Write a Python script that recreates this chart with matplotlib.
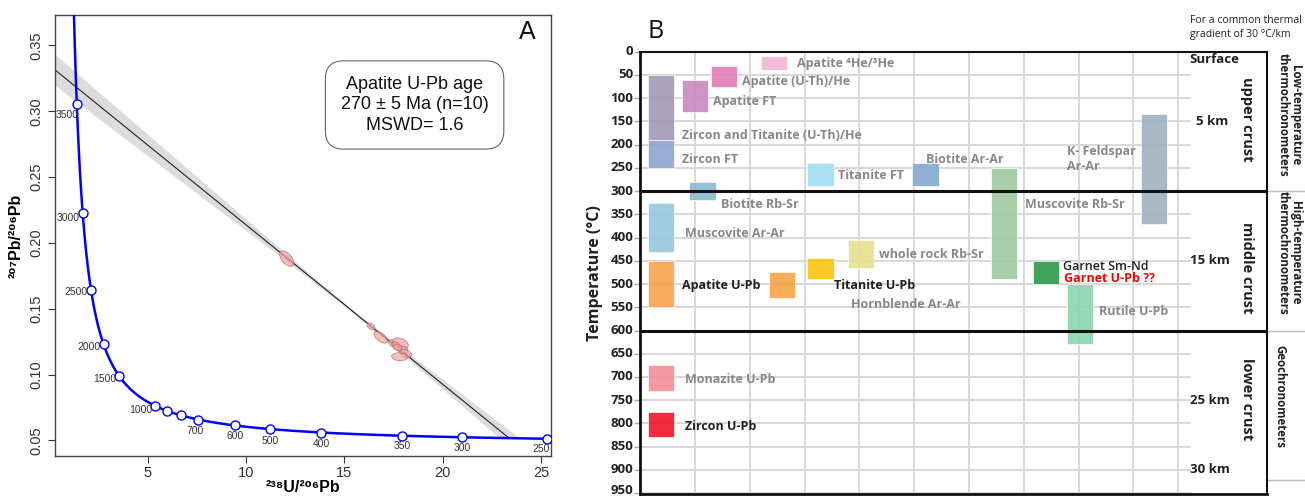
import numpy as np
import matplotlib
matplotlib.use('Agg')
import matplotlib.pyplot as plt

# ---------------- Panel A data (Tera-Wasserburg) ----------------
marker_ages = [250, 300, 350, 450, 550, 650, 800, 900, 1000, 1100, 1600, 2000, 2500, 3000, 3500]
age_labels = ['3500', '3000', '2500', '2000', '1500', '1000', '700', '600', '500', '400', '350', '300', '250']
ell_x = [12.07, 16.35, 16.85, 17.45, 17.85, 17.62, 17.95, 18.12, 17.80, 17.70]
ell_y = [0.1880, 0.1366, 0.1283, 0.1236, 0.1236, 0.1222, 0.1190, 0.1160, 0.1135, 0.1205]
ell_sx = [0.36, 0.20, 0.34, 0.20, 0.40, 0.20, 0.28, 0.30, 0.40, 0.22]
ell_sy = [0.0058, 0.0026, 0.0045, 0.0028, 0.0042, 0.0026, 0.0027, 0.0030, 0.0030, 0.0024]
ell_rho = [-0.55, -0.45, -0.60, -0.40, -0.35, -0.30, -0.25, -0.35, -0.10, -0.30]
lower_intercept_age = 270.0
common_pb_207_206 = 0.3348
box_text = 'Apatite U-Pb age\n270 ± 5 Ma (n=10)\nMSWD= 1.6'

# ---------------- Panel B data ----------------
methods = ['Zircon and Titanite (U-Th)/He', 'Zircon FT', 'Apatite FT', 'Apatite (U-Th)/He',
           'Apatite ⁴He/³He', 'Titanite FT', 'Biotite Ar-Ar', 'Biotite Rb-Sr', 'Muscovite Ar-Ar',
           'Apatite U-Pb', 'Hornblende Ar-Ar', 'Titanite U-Pb', 'whole rock Rb-Sr', 'Monazite U-Pb',
           'Zircon U-Pb', 'Muscovite Rb-Sr', 'Garnet Sm-Nd', 'Rutile U-Pb', 'K-Feldspar Ar-Ar']
t_low = [50, 190, 60, 30, 10, 240, 240, 280, 325, 450, 475, 445, 405, 675, 775, 250, 450, 500, 135]
t_high = [190, 250, 130, 75, 40, 290, 290, 320, 430, 550, 530, 490, 465, 730, 830, 490, 500, 630, 370]
bar_colors = ['#a49ab9', '#8ea6d0', '#c98bc1', '#e27fb6', '#f6b5d7', '#a1e0f4', '#86a8d0', '#8bbad2',
              '#97c9dd', '#f8a44a', '#f8a44a', '#fcc515', '#e8e091', '#f4909a', '#ed1c2b', '#a2caa3',
              '#2f9a4f', '#8dd6b3', '#a1b3c0']
temp_ticks = list(range(0, 1000, 50))
depth_labels = ['Surface', '5 km', '15 km', '25 km', '30 km']
depth_temps = [16, 150, 450, 750, 900]
crust_labels = ['upper crust', 'middle crust', 'lower crust']
crust_temps = [145, 465, 748]
group_labels = ['Low-temperature\nthermochronometers', 'High-temperature\nthermochronometers', 'Geochronometers']
group_temps = [136, 432, 742]

# layout (column positions in panel B)
bar_left = [0.137, 0.137, 0.757, 1.287, 2.205, 3.05, 4.966, 0.896, 0.137, 0.137, 2.345, 3.05,
            3.787, 0.137, 0.137, 6.40, 7.164, 7.784, 9.135]
BAR_W = 0.48

GRAY = '#888888'
DARK = '#231f20'
lab_specs = [  # text, x, T, colour
    ('Apatite ⁴He/³He', 2.86, 25, GRAY),
    ('Apatite (U-Th)/He', 1.85, 65, GRAY),
    ('Apatite FT', 1.335, 107, GRAY),
    ('Zircon and Titanite (U-Th)/He', 0.755, 181, GRAY),
    ('Zircon FT', 0.755, 231, GRAY),
    ('Titanite FT', 3.616, 267, GRAY),
    ('Biotite Ar-Ar', 5.21, 231, GRAY),
    ('Biotite Rb-Sr', 1.48, 328, GRAY),
    ('Muscovite Ar-Ar', 0.825, 391, GRAY),
    ('K- Feldspar\nAr-Ar', 7.79, 231, GRAY),
    ('Muscovite Rb-Sr', 7.02, 328, GRAY),
    ('whole rock Rb-Sr', 4.36, 437, GRAY),
    ('Apatite U-Pb', 0.755, 504, DARK),
    ('Titanite U-Pb', 3.546, 504, DARK),
    ('Hornblende Ar-Ar', 3.84, 543, GRAY),
    ('Garnet Sm-Nd', 7.72, 462, DARK),
    ('Garnet U-Pb ??', 7.73, 488, '#ff0000'),
    ('Rutile U-Pb', 8.38, 558, GRAY),
    ('Monazite U-Pb', 0.825, 706, GRAY),
    ('Zircon U-Pb', 0.825, 807, DARK),
]

# ---------------- figure ----------------
fig = plt.figure(figsize=(13.05, 4.98), dpi=100)
AF = ['Liberation Sans', 'DejaVu Sans']
BF = ['Open Sans', 'DejaVu Sans']

# ===== Panel A =====
axA = fig.add_axes([55 / 1305, (498 - 456) / 498, 496 / 1305, 441 / 498])
L238, L235, U85 = 1.55125e-4, 9.8485e-4, 137.88  # decay constants per Ma


def tw(t):
    t = np.asarray(t, dtype=float)
    e8 = np.exp(L238 * t) - 1
    e5 = np.exp(L235 * t) - 1
    return 1 / e8, e5 / (U85 * e8)


def conc_y(x):
    t = np.log(1 + 1 / x) / L238
    return tw(t)[1]


t_curve = np.linspace(200, 4500, 3000)
cxs, cys = tw(t_curve)
axA.plot(cxs, cys, color='#0000ff', lw=1.8, zorder=3)
mx, my = tw(marker_ages)
axA.plot(mx, my, 'o', ms=6.5, mfc='white', mec='#0000ff', mew=1.0, zorder=4)

lab_xy = [(0.90, 0.2974), (0.96, 0.2192), (1.36, 0.1627), (2.00, 0.1209), (2.81, 0.0968),
          (4.64, 0.0733), (7.42, 0.0571), (9.46, 0.0533), (11.25, 0.0495), (13.83, 0.0470),
          (17.93, 0.0457), (21.0, 0.0444), (25.0, 0.0437)]
for s, (lx, ly) in zip(age_labels, lab_xy):
    axA.text(lx, ly, s, fontsize=7.5, color='#333333', ha='center', va='center', family=AF, zorder=5)

x_int, y_int = tw(lower_intercept_age)
slope = (y_int - common_pb_207_206) / x_int
xb = np.linspace(0.01, 24.6, 600)
yc = common_pb_207_206 + slope * xb
h = np.sqrt(0.0012 ** 2 + (0.00077 * (xb - 15.5)) ** 2)
cyb = np.where(xb > 15, conc_y(xb), -1)
axA.fill_between(xb, np.maximum(yc - h, cyb), np.maximum(yc + h, cyb), color='#dcdcdc', lw=0, zorder=1)
xl = np.linspace(0, x_int, 50)
axA.plot(xl, common_pb_207_206 + slope * xl, color='#222222', lw=0.8, zorder=2)

tt = np.linspace(0, 2 * np.pi, 100)
for ex, ey, sx, sy, r in zip(ell_x, ell_y, ell_sx, ell_sy, ell_rho):
    px = ex + sx * np.cos(tt)
    py = ey + sy * (r * np.cos(tt) + np.sqrt(1 - r * r) * np.sin(tt))
    axA.fill(px, py, facecolor='#f3a3a3', alpha=0.7, edgecolor='#a86060', lw=0.6, zorder=3)

axA.text(0.725, 0.796, box_text, transform=axA.transAxes, ha='center', va='center', fontsize=13,
         family=AF, color='#111111', linespacing=1.25, zorder=6,
         bbox=dict(boxstyle='round,pad=0.85,rounding_size=1.0', fc='white', ec='#666666', lw=0.8))
axA.text(0.952, 0.962, 'A', transform=axA.transAxes, ha='center', va='center', fontsize=18,
         family=AF, color='#111111')

axA.set_xlim(0.28, 25.51)
axA.set_ylim(0.0381, 0.3731)
axA.set_xticks([5, 10, 15, 20, 25])
axA.set_yticks([0.05, 0.10, 0.15, 0.20, 0.25, 0.30, 0.35])
axA.set_yticklabels(['0.05', '0.10', '0.15', '0.20', '0.25', '0.30', '0.35'], rotation=90, va='center')
axA.tick_params(direction='out', length=5, width=0.8, colors='#333333', labelsize=10.5)
axA.tick_params(axis='x', pad=2)
for lbl in axA.get_xticklabels() + axA.get_yticklabels():
    lbl.set_family(AF)
for sp in axA.spines.values():
    sp.set_color('#444444')
    sp.set_linewidth(1.0)
axA.set_xlabel('²³⁸U/²⁰⁶Pb', fontsize=11.5, fontweight='bold', family=AF, labelpad=0)
axA.set_ylabel('²⁰⁷Pb/²⁰⁶Pb', fontsize=11.5, fontweight='bold', family=AF, labelpad=4)

# ===== Panel B =====
axB = fig.add_axes([640.2 / 1305, (498 - 494) / 498, 626.5 / 1305, 442.3 / 498])
XR = 11.435
axB.set_xlim(0, XR)
axB.set_ylim(951.8, 0)

for xv in [1, 2, 3, 4, 5, 6, 7, 8, 9, 9.81]:
    axB.plot([xv, xv], [0, 951.8], color='#d8d8d8', lw=1.4, zorder=1)
for T in temp_ticks[1:]:
    if T in (300, 600):
        continue
    axB.plot([0, 10.03], [T, T], color='#d8d8d8', lw=1.4, zorder=1)

axB.bar(bar_left, np.array(t_high) - np.array(t_low), bottom=t_low, width=BAR_W, align='edge',
        color=bar_colors, edgecolor='white', linewidth=0.5, alpha=0.92, zorder=2)

for T in (300, 600):
    axB.plot([0, XR], [T, T], color='#111111', lw=2.2, zorder=5, solid_capstyle='butt')

for s, x, T, c in lab_specs:
    fw = 'semibold' if s.startswith('Garnet Sm') else 'bold'
    axB.text(x, T, s, color=c, fontsize=9, fontweight=fw, family=BF, ha='left', va='center',
             linespacing=1.15, zorder=6)

for s, T in zip(depth_labels, depth_temps):
    x = 10.14 if s == '5 km' else 10.03
    axB.text(x, T, s, fontsize=9.5, fontweight='bold', family=BF, color=DARK, ha='left', va='center', zorder=6)
for s, T in zip(crust_labels, crust_temps):
    axB.text(11.07, T, s, fontsize=10.5, fontweight='bold', family=BF, color=DARK, rotation=-90,
             ha='center', va='center', zorder=6)
for s, T in zip(group_labels, group_temps):
    gx = 11.68 if '\n' not in s else 11.85
    axB.text(gx, T, s, fontsize=8.3, fontweight='bold', family=BF, color=DARK, rotation=-90,
             ha='center', va='center', multialignment='center', linespacing=1.0, clip_on=False)
for T in (300, 600, 922):
    axB.plot([XR, 12.15], [T, T], color='#bbbbbb', lw=1.0, clip_on=False)

axB.text(10.03, -68, 'For a common thermal', fontsize=7.5, family=BF, color=DARK, ha='left', va='center')
axB.text(10.03, -38, 'gradient of 30 °C/km', fontsize=7.5, family=BF, color=DARK, ha='left', va='center')
axB.text(0.14, -43, 'B', fontsize=18, family=BF, color='#111111', ha='left', va='center')

axB.set_xticks([])
axB.set_yticks(temp_ticks)
axB.set_yticklabels([])
axB.tick_params(axis='y', direction='out', length=4, width=1, color='#aaaaaa')
ytr = axB.get_yaxis_transform()
for T in temp_ticks:
    axB.text(-0.011, min(T, 944), str(T), transform=ytr, ha='right', va='center', fontsize=9.5,
             fontweight='bold', family=BF, color=DARK, clip_on=False)
for name, lw in (('left', 2.0), ('top', 1.5), ('bottom', 2.0), ('right', 1.5)):
    axB.spines[name].set_color('#111111')
    axB.spines[name].set_linewidth(lw)
axB.set_ylabel('Temperature (°C)', fontsize=11.5, fontweight='bold', family=BF, color=DARK, labelpad=19)

fig.savefig('out.png', dpi=100)
